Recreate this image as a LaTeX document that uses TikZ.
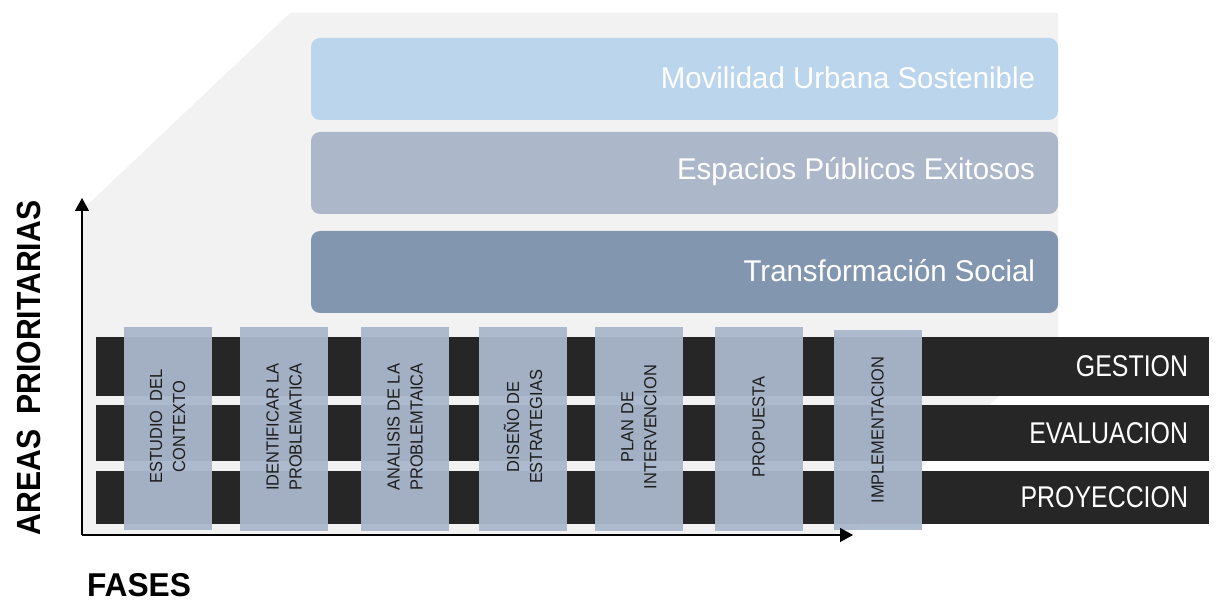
\documentclass[tikz,border=0pt]{standalone}
\usepackage{fontspec}
\setmainfont{Liberation Sans}
\newfontfamily\nar[FakeStretch=0.83]{Liberation Sans}
\newfontfamily\toptextfont[FakeStretch=0.98]{Liberation Sans}
\newfontfamily\coltextfont[FakeStretch=0.94]{Liberation Sans}
\newfontfamily\areasfont[FakeStretch=0.9]{Liberation Sans}
\newfontfamily\fasesfont[FakeStretch=0.96]{Liberation Sans}
\usetikzlibrary{arrows.meta}
\definecolor{bggray}{HTML}{F2F2F2}
\definecolor{boxA}{HTML}{BBD5EC}
\definecolor{boxB}{HTML}{ACB8CA}
\definecolor{boxC}{HTML}{8396B0}
\definecolor{banddark}{HTML}{262626}
\definecolor{colfill}{HTML}{AAB8CC}
\definecolor{coltext}{HTML}{1E1E1E}
\tikzset{
  topbox/.style={draw=none, rounded corners=9pt, minimum width=747pt, inner sep=0pt},
  toptext/.style={anchor=east, text=white, font=\toptextfont\fontsize{30}{34}\selectfont, inner sep=0pt},
  band/.style={fill=banddark, draw=none, minimum width=1113pt, inner sep=0pt},
  bandtext/.style={anchor=east, text=white, font=\nar\fontsize{30}{34}\selectfont, inner sep=0pt},
  phase/.style={fill=colfill, fill opacity=0.95, draw=none, minimum width=88pt, minimum height=203pt, inner sep=0pt},
  phasetext/.style={rotate=90, align=center, text=coltext, font=\coltextfont\fontsize{17.5}{23}\selectfont, inner sep=0pt},
  axisline/.style={draw=black, line width=1.3pt, -{Triangle[length=13pt,width=14pt]}}
}
\begin{document}
\begin{tikzpicture}[x=1pt,y=-1pt]
\useasboundingbox (0,0) rectangle (1216,601);
% background prism
\fill[bggray] (290,13) -- (1058,13) -- (1058,342) -- (848,535) -- (82,535) -- (82,210) -- cycle;
% top boxes
\node[topbox, fill=boxA, minimum height=82pt] (b1) at (684.5,79) {};
\node[topbox, fill=boxB, minimum height=82pt] (b2) at (684.5,173) {};
\node[topbox, fill=boxC, minimum height=82pt] (b3) at (684.5,272) {};
\node[toptext] (t1) at ([xshift=-23pt,yshift=1pt]b1.east) {Movilidad Urbana Sostenible};
\node[toptext] (t2) at ([xshift=-23pt,yshift=1pt]b2.east) {Espacios Públicos Exitosos};
\node[toptext] (t3) at ([xshift=-23pt,yshift=1pt]b3.east) {Transformación Social};
% bands
\node[band, minimum height=59pt] (g1) at (652.5,366.5) {};
\node[band, minimum height=56pt] (g2) at (652.5,433) {};
\node[band, minimum height=53pt] (g3) at (652.5,497.5) {};
\node[bandtext] (l1) at ([xshift=-21pt]g1.east) {GESTION};
\node[bandtext] (l2) at ([xshift=-21pt]g2.east) {EVALUACION};
\node[bandtext] (l3) at ([xshift=-21pt]g3.east) {PROYECCION};
% phases
\node[phase] (p1) at (167.5,428.5) {};
\node[phase] (p2) at (284,429) {};
\node[phase] (p3) at (405,429) {};
\node[phase] (p4) at (523,429) {};
\node[phase] (p5) at (639,429) {};
\node[phase] (p6) at (758.5,429) {};
\node[phase, minimum height=200pt] (p7) at (877.5,430) {};
\node[phasetext] (q1) at ([yshift=2pt]p1.center) {ESTUDIO\ \ DEL\\CONTEXTO};
\node[phasetext] (q2) at ([yshift=2pt]p2.center) {IDENTIFICAR LA\\PROBLEMATICA};
\node[phasetext] (q3) at ([yshift=2pt]p3.center) {ANALISIS DE LA\\PROBLEMTAICA};
\node[phasetext] (q4) at ([yshift=2pt]p4.center) {DISEÑO DE\\ESTRATEGIAS};
\node[phasetext] (q5) at ([yshift=2pt]p5.center) {PLAN DE\\INTERVENCION};
\node[phasetext] (q6) at ([yshift=2pt]p6.center) {PROPUESTA};
\node[phasetext] (q7) at ([yshift=0pt]p7.center) {IMPLEMENTACION};
% axes
\coordinate (o) at (82,535);
\coordinate (ytop) at (82,198);
\coordinate (xend) at (853,535);
\draw[axisline] (o) -- (ytop);
\draw[axisline] (o) -- (xend);
\node[rotate=90, inner sep=0pt, font=\areasfont\bfseries\fontsize{33.5}{36}\selectfont] (ay) at (29,368) {AREAS\hspace{0.45em}PRIORITARIAS};
\node[inner sep=0pt, font=\fasesfont\bfseries\fontsize{33}{36}\selectfont] (ax) at (139,585) {FASES};
\end{tikzpicture}
\end{document}
